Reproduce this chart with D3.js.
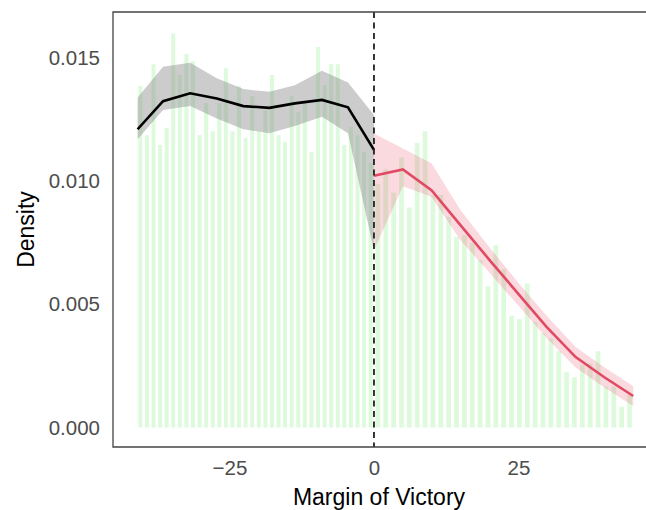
<!DOCTYPE html>
<html>
<head>
<meta charset="utf-8">
<script src="https://cdn.jsdelivr.net/npm/d3@7"></script>
<style>
  body { margin: 0; background: #fff; }
  text { font-family: "Liberation Sans", Arial, sans-serif; }
</style>
</head>
<body>
<script>
const svgWidth = 646
const svgHeight = 510

// histogram, left of the cutoff
const leftBins = [-40.43, -39.29, -38.15, -37.01, -35.87, -34.74, -33.60, -32.46, -31.32, -30.18,
  -29.04, -27.90, -26.76, -25.63, -24.49, -23.35, -22.21, -21.07, -19.93, -18.79,
  -17.65, -16.51, -15.38, -14.24, -13.10, -11.96, -10.82, -9.68, -8.54, -7.40,
  -6.26, -5.13, -3.99, -2.85, -1.71, -0.57]
const leftDensity = [0.01387, 0.01187, 0.01475, 0.01147, 0.01217, 0.0160, 0.01431, 0.01517, 0.01487, 0.01187,
  0.01317, 0.01203, 0.01317, 0.01459, 0.01203, 0.01387, 0.01175, 0.01345, 0.01203, 0.01289,
  0.01431, 0.01187, 0.0116, 0.01345, 0.0128, 0.0132, 0.01118, 0.01545, 0.0139, 0.01475,
  0.01475, 0.01147, 0.0122, 0.01187, 0.01118, 0.01073]

// histogram, right of the cutoff
const rightBins = [0.68, 2.04, 3.40, 4.76, 6.12, 7.48, 8.84, 10.20, 11.57, 12.93,
  14.29, 15.65, 17.01, 18.37, 19.73, 21.09, 22.45, 23.81, 25.17, 26.53,
  27.89, 29.25, 30.61, 31.97, 33.33, 34.69, 36.06, 37.42, 38.78, 40.14,
  41.50, 42.86, 44.22]
const rightDensity = [0.00988, 0.01048, 0.00953, 0.01097, 0.00894, 0.01156, 0.01203, 0.00944, 0.00944, 0.00856,
  0.00774, 0.00781, 0.00749, 0.0068, 0.00574, 0.0074, 0.00643, 0.00454, 0.0044, 0.00585,
  0.00429, 0.00383, 0.00362, 0.0031, 0.00226, 0.00204, 0.00254, 0.0026, 0.0031, 0.00166,
  0.00166, 0.00084, 0.00132]

// local fit, left side
const leftX = [-40.9, -36.5, -31.8, -27.2, -22.6, -18.1, -13.7, -9.0, -4.5, 0]
const leftFit = [0.01211, 0.01325, 0.01357, 0.01336, 0.01305, 0.01298, 0.01316, 0.0133, 0.013, 0.01127]
const leftUpper = [0.0134, 0.01465, 0.01481, 0.01418, 0.01374, 0.01363, 0.0139, 0.01448, 0.01401, 0.01269]
const leftLower = [0.0117, 0.01289, 0.01305, 0.01255, 0.01211, 0.01195, 0.01224, 0.01262, 0.01195, 0.0072]

// local fit, right side
const rightX = [0, 5.0, 9.95, 14.93, 19.93, 24.9, 29.9, 34.9, 39.8, 44.86]
const rightFit = [0.01022, 0.01048, 0.00964, 0.00823, 0.00682, 0.00545, 0.00408, 0.00286, 0.00205, 0.00128]
const rightUpper = [0.01194, 0.01133, 0.01073, 0.00884, 0.00733, 0.0059, 0.00453, 0.00327, 0.00246, 0.00168]
const rightLower = [0.0072, 0.0098, 0.00937, 0.00761, 0.0063, 0.00497, 0.00363, 0.00244, 0.00164, 0.00087]

const xTicks = [-25, 0, 25]
const yTicks = [0, 0.005, 0.010, 0.015]

const panel = { left: 113, right: 645, top: 12, bottom: 447 }

const svg = d3.select("body").append("svg")
  .attr("width", svgWidth)
  .attr("height", svgHeight)

const x = d3.scaleLinear()
  .domain([-45.16, 46.9])
  .range([panel.left, panel.right])

const y = d3.scaleLinear()
  .domain([-0.00079, 0.01687])
  .range([panel.bottom, panel.top])

// bars
const barFrac = 0.6
const drawBars = (bins, vals, cls) => {
  const bw = (x(bins[1]) - x(bins[0])) * barFrac
  svg.append("g").selectAll("rect." + cls)
    .data(bins.map((b, i) => ({ b, v: vals[i] })))
    .enter()
    .append("rect")
    .attr("x", d => x(d.b) - bw / 2)
    .attr("width", bw)
    .attr("y", d => y(d.v))
    .attr("height", d => y(0) - y(d.v))
    .attr("fill", "#90ee90")
    .attr("fill-opacity", 0.3)
}
drawBars(leftBins, leftDensity, "l")
drawBars(rightBins, rightDensity, "r")

const area = d3.area().x(d => x(d.x)).y0(d => y(d.lo)).y1(d => y(d.hi))
const line = d3.line().x(d => x(d.x)).y(d => y(d.y))

const leftPts = leftX.map((v, i) => ({ x: v, y: leftFit[i], lo: leftLower[i], hi: leftUpper[i] }))
const rightPts = rightX.map((v, i) => ({ x: v, y: rightFit[i], lo: rightLower[i], hi: rightUpper[i] }))

svg.append("path").datum(leftPts)
  .attr("d", area)
  .attr("fill", "#808080")
  .attr("fill-opacity", 0.4)

svg.append("path").datum(rightPts)
  .attr("d", area)
  .attr("fill", "#e8536d")
  .attr("fill-opacity", 0.22)

svg.append("path").datum(leftPts)
  .attr("d", line)
  .attr("fill", "none")
  .attr("stroke", "#000")
  .attr("stroke-width", 2.6)

svg.append("path").datum(rightPts)
  .attr("d", line)
  .attr("fill", "none")
  .attr("stroke", "#e04a63")
  .attr("stroke-width", 2.6)

// cutoff
svg.append("line")
  .attr("x1", x(0)).attr("x2", x(0))
  .attr("y1", panel.top).attr("y2", panel.bottom)
  .attr("stroke", "#222")
  .attr("stroke-width", 1.8)
  .attr("stroke-dasharray", "6,4.5")

// panel border (top, left, bottom)
svg.append("path")
  .attr("d", `M${panel.right + 2},${panel.top}H${panel.left}V${panel.bottom}H${panel.right + 2}`)
  .attr("fill", "none")
  .attr("stroke", "#444")
  .attr("stroke-width", 1.3)

// axes (labels only)
const xAxis = d3.axisBottom(x).tickValues(xTicks).tickSize(0).tickPadding(13)
svg.append("g")
  .attr("transform", `translate(0, ${panel.bottom})`)
  .call(xAxis)
  .call(g => g.select(".domain").remove())
  .selectAll("text")
  .attr("font-size", 20.5)
  .attr("fill", "#4d4d4d")
  .style("font-family", "Liberation Sans, Arial, sans-serif")

const yAxis = d3.axisLeft(y).tickValues(yTicks).tickFormat(d3.format(".3f")).tickSize(0).tickPadding(13)
svg.append("g")
  .attr("transform", `translate(${panel.left}, 0)`)
  .call(yAxis)
  .call(g => g.select(".domain").remove())
  .selectAll("text")
  .attr("font-size", 20.5)
  .attr("fill", "#4d4d4d")
  .style("font-family", "Liberation Sans, Arial, sans-serif")

svg.append("text")
  .attr("x", (panel.left + panel.right) / 2)
  .attr("y", 505)
  .attr("text-anchor", "middle")
  .attr("font-size", 23)
  .text("Margin of Victory")

svg.append("text")
  .attr("transform", `translate(34, ${(panel.top + panel.bottom) / 2}) rotate(-90)`)
  .attr("text-anchor", "middle")
  .attr("font-size", 23)
  .text("Density")
</script>
</body>
</html>
